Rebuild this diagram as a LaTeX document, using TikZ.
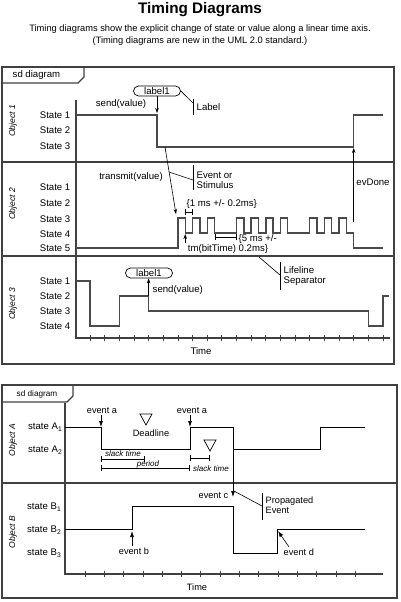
\documentclass[tikz,border=0pt]{standalone}
\usepackage{fontspec}
\setmainfont{Liberation Sans}
\usetikzlibrary{arrows.meta}
\definecolor{framegray}{HTML}{404040}
\definecolor{wavegray}{HTML}{4A4A4A}
\tikzset{
	frame/.style = {draw = framegray, line width = 1.3pt},
	wave/.style = {wavegray, line width = 1.4pt},
	thinwave/.style = {black, line width = 0.9pt},
	tick/.style = {framegray, line width = 0.8pt},
	txt/.style = {inner sep = 0.5pt, font = \fontsize{9.6}{10.5}\selectfont},
	smalltxt/.style = {inner sep = 0.5pt, font = \fontsize{9.2}{10.3}\selectfont},
	slack/.style = {inner sep = 0.5pt, font = \fontsize{8}{9.5}\selectfont\itshape},
	objlabel/.style = {inner sep = 0.5pt, rotate = 90, font = \fontsize{8.5}{10}\selectfont\itshape},
	pill/.style = {draw, line width = 0.7pt, rounded corners = 5pt, minimum width = 47pt, minimum height = 10pt, inner sep = 0pt, font = \fontsize{9.6}{10.5}\selectfont},
	stim/.style = {-{Stealth[length = 5pt, width = 3.5pt]}, line width = 0.6pt},
	evarrow/.style = {-{Latex[length = 6pt, width = 4pt]}, line width = 0.6pt},
	interval/.style = {{Bar[width = 6pt]}-{Bar[width = 6pt]}, line width = 0.9pt},
	callout/.style = {line width = 0.6pt},
	calloutbar/.style = {line width = 1pt}
}
\begin{document}
\begin{tikzpicture}[x = 1pt, y = -1pt]
	\useasboundingbox (0,0) rectangle (400,602);
	% title
	\node[font = \fontsize{15.3}{18}\selectfont\bfseries] (title) at (200,10) {Timing Diagrams};
	\node[txt, font = \fontsize{9.3}{11}\selectfont] (sub1) at (200,29) {Timing diagrams show the explicit change of state or value along a linear time axis.};
	\node[txt, font = \fontsize{9.3}{11}\selectfont] (sub2) at (200,41) {(Timing diagrams are new in the UML 2.0 standard.)};

	% upper frame
	\draw[frame] (2,67) rectangle (394,364);
	\draw[frame] (2,83) -- (78,83) -- (84,77) -- (84,67);
	\node[txt, anchor = west] (tab1) at (12,75) {sd diagram};
	\draw[frame] (2,162) -- (394,162);
	\draw[frame] (2,256) -- (394,256);
	\draw[frame] (76,100) -- (76,338) -- (390,338);
	\foreach \k in {0,...,20}
		\draw[tick] ({90+14.65*\k},335) -- ({90+14.65*\k},341);
	\node[txt] (time1) at (201,351) {Time};

	\node[objlabel] (obj1) at (13,121) {Object 1};
	\node[objlabel] (obj2) at (13,204) {Object 2};
	\node[objlabel] (obj3) at (13,304) {Object 3};
	\node[txt, anchor = east] (s11) at (71,115) {State 1};
	\node[txt, anchor = east] (s12) at (71,130) {State 2};
	\node[txt, anchor = east] (s13) at (71,146) {State 3};
	\node[txt, anchor = east] (s21) at (71,187) {State 1};
	\node[txt, anchor = east] (s22) at (71,203) {State 2};
	\node[txt, anchor = east] (s23) at (71,219) {State 3};
	\node[txt, anchor = east] (s24) at (71,234) {State 4};
	\node[txt, anchor = east] (s25) at (71,248) {State 5};
	\node[txt, anchor = east] (s31) at (71,281) {State 1};
	\node[txt, anchor = east] (s32) at (71,296) {State 2};
	\node[txt, anchor = east] (s33) at (71,311) {State 3};
	\node[txt, anchor = east] (s34) at (71,326) {State 4};

	% object 1
	\draw[wave] (76,115) -| (157,147) -| (353.7,115) -- (383,115);
	\node[pill] (lab1) at (157,91) {label1};
	\coordinate (send1) at (157,113);
	\draw[stim] (lab1.south) -- (send1);
	\node[txt] (sendtxt1) at (121,104) {send(value)};
	\coordinate (lblbar) at (193,103);
	\draw[callout] (lab1.east) -- (lblbar);
	\draw[calloutbar] (193,99) -- (193,115);
	\node[txt, anchor = west] (lbltxt) at (196,107) {Label};

	% object 2, one bit every half tick
	\begin{scope}[shift = {(90,0)}, x = 14.65pt]
		\draw[wave] (-0.956,248) -| (6,218) -| (6.5,233) -| (7,218) -| (7.5,233) -| (8,218) -| (8.5,233)
			-| (10,218) -| (10.5,233) -| (11,218) -| (11.5,233) -| (12,218) -| (12.5,233) -| (13,218) -| (13.5,233)
			-| (15,218) -| (15.5,233) -| (16,218) -| (16.5,233) -| (17,218) -| (17.5,233) -| (18,248) -- (20,248);
		\coordinate (evd0) at (18,222);
		\coordinate (evd1) at (18,148);
		\coordinate (bit0) at (6.5,243);
		\coordinate (bit1) at (6.5,234);
		\draw[interval] (6.5,212) -- (7,212);
		\draw[interval] (8.5,237) -- (10,237);
	\end{scope}
	\draw[stim] (evd0) -- (evd1);
	\node[txt] (evdone) at (373,182) {evDone};
	\coordinate (tx0) at (165,147);
	\coordinate (tx1) at (176,214);
	\draw[stim] (tx0) -- (tx1);
	\node[txt] (txtxt) at (131,177) {transmit(value)};
	\coordinate (evs0) at (169,172);
	\coordinate (evs1) at (193,180);
	\draw[callout] (evs0) -- (evs1);
	\draw[calloutbar] (193,165) -- (193,190);
	\node[txt, anchor = west, align = left] (evstxt) at (196,180) {Event or\\Stimulus};
	\node[txt, anchor = west] (onems) at (186,204) {\{1 ms +/- 0.2ms\}};
	\draw[stim] (bit0) -- (bit1);
	\node[txt] (bittime) at (212,249) {tm(bitTime)};
	\node[txt, anchor = west, align = left] (fivems) at (238,244) {\{5 ms +/-\\0.2ms\}};
	\coordinate (sep0) at (259,257);
	\coordinate (sep1) at (280,275);
	\draw[callout] (sep0) -- (sep1);
	\draw[calloutbar] (280,262) -- (280,290);
	\node[txt, anchor = west, align = left] (septxt) at (283,276) {Lifeline\\Separator};

	% object 3
	\draw[wave] (76,281) -| (90,326) -| (119.3,296) -| (148.6,311) -| (368.35,326) -| (383,296) -- (389,296);
	\node[pill] (lab3) at (149,273) {label1};
	\coordinate (send3) at (148.6,296);
	\draw[stim] (send3) -- (lab3.south -| send3);
	\node[txt, anchor = west] (sendtxt3) at (152,290) {send(value)};

	% lower frame
	\draw[frame] (2,385) rectangle (397,598);
	\draw[frame] (2,402) -- (67,402) -- (73,396) -- (73,385);
	\node[smalltxt, font = \fontsize{8.2}{9.5}\selectfont, anchor = west] (tab2) at (16,394) {sd diagram};
	\draw[frame] (2,483) -- (397,483);
	\draw[frame] (65,403) -- (65,574) -- (383,574);
	\foreach \k in {0,...,14}
		\draw[tick] ({85+19.3*\k},571) -- ({85+19.3*\k},577);
	\node[smalltxt] (time2) at (197,587) {Time};

	\node[objlabel] (obja) at (13,440) {Object A};
	\node[objlabel] (objb) at (13,532) {Object B};
	\node[txt, anchor = east] (sa1) at (63,427) {state A\textsubscript{1}};
	\node[txt, anchor = east] (sa2) at (63,450) {state A\textsubscript{2}};
	\node[txt, anchor = east] (sb1) at (62,507) {state B\textsubscript{1}};
	\node[txt, anchor = east] (sb2) at (62,530) {state B\textsubscript{2}};
	\node[txt, anchor = east] (sb3) at (62,553) {state B\textsubscript{3}};

	% object A
	\draw[thinwave] (65,427) -| (101,449) -| (190,427) -| (233,449) -| (320,427) -- (365,427);
	\coordinate (a1) at (101,427);
	\coordinate (a2) at (190,427);
	\node[smalltxt] (ea1) at (102,411) {event a};
	\node[smalltxt] (ea2) at (192,411) {event a};
	\draw[evarrow] (a1 |- ea1.south) -- (a1);
	\draw[evarrow] (a2 |- ea2.south) -- (a2);
	\draw[line width = 0.7pt] (140,414) -- (152,414) -- (146,425) -- cycle;
	\node[smalltxt] (deadline) at (151,433) {Deadline};
	\draw[line width = 0.7pt] (204,440) -- (216,440) -- (210,451) -- cycle;
	\draw[interval] (101,459) -- (145,459);
	\node[slack] (slack1) at (123,454) {slack time};
	\draw[interval] (101,468) -- (190,468);
	\node[slack, anchor = base] (period) at (148,466) {period};
	\draw[interval] (190,458) -- (210,458);
	\node[slack] (slack2) at (211,469) {slack time};

	% object B
	\draw[thinwave] (65,529) -| (132,506) -| (233,553) -| (277,529) -- (365,529);
	\coordinate (c0) at (233,449);
	\coordinate (c1) at (233,497);
	\draw[evarrow] (c0) -- (c1);
	\node[smalltxt, anchor = east] (ec) at (229,496) {event c};
	\coordinate (pe0) at (234,491);
	\coordinate (pe1) at (262,506);
	\draw[callout] (pe0) -- (pe1);
	\draw[calloutbar] (262,493) -- (262,520);
	\node[smalltxt, anchor = west, align = left] (petxt) at (265,505) {Propagated\\Event};
	\coordinate (b0) at (132,546);
	\coordinate (b1) at (132,531);
	\draw[evarrow] (b0) -- (b1);
	\node[smalltxt] (eb) at (134,551) {event b};
	\coordinate (d0) at (289,547);
	\coordinate (d1) at (278,531);
	\draw[evarrow] (d0) -- (d1);
	\node[smalltxt, anchor = west] (ed) at (283,552) {event d};
\end{tikzpicture}
\end{document}
